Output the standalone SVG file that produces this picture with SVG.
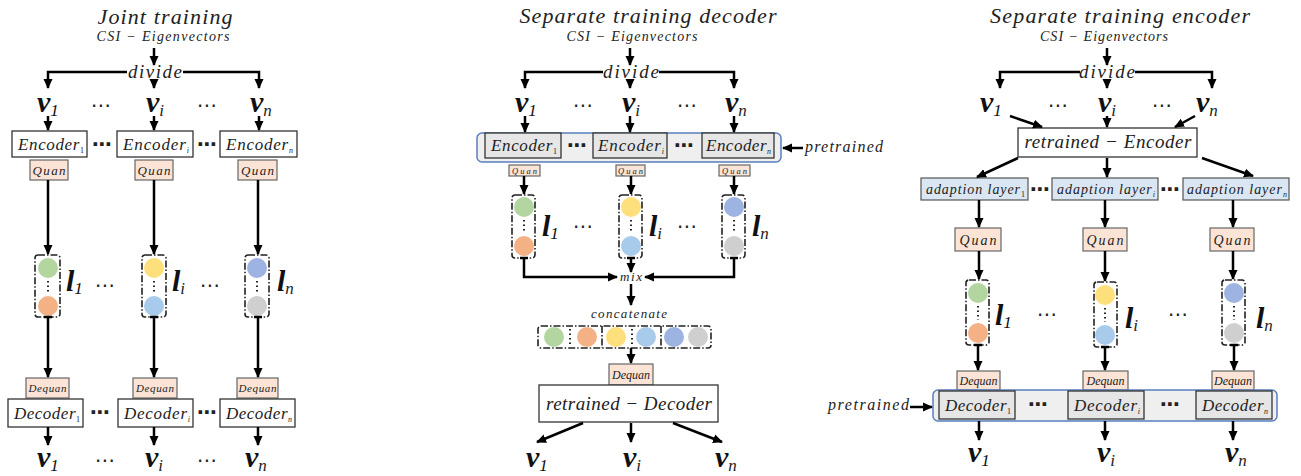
<svg xmlns="http://www.w3.org/2000/svg" width="1301" height="476" viewBox="0 0 1301 476">
<defs>
<marker id="ah" viewBox="0 0 10 10" refX="9" refY="5" markerWidth="10" markerHeight="10" markerUnits="userSpaceOnUse" orient="auto"><path d="M0,0.5 L10,5 L0,9.5 z" fill="#000"/></marker>
<style>
.m{font-family:"Liberation Serif",serif;font-style:italic;fill:#222}
.c{text-anchor:middle}
.ti{font-size:22px}
.csi{font-size:14px}
.dv{font-size:19px}
.bv{font-family:"Liberation Serif",serif;font-weight:bold;font-style:italic;font-size:30px;fill:#111}
.s{font-family:"Liberation Serif",serif;font-weight:normal;font-size:17px}
.su{font-size:8px;font-style:normal}
.sui{font-size:8px}
.dots{font-family:"DejaVu Sans",sans-serif;font-size:20px;text-anchor:middle;fill:#222}
.bd{font-weight:bold}
.box{fill:#fff;stroke:#333;stroke-width:1.3}
.gbox{fill:#e6e6e6;stroke:#333;stroke-width:1.3}
.bar{fill:#efefef;stroke:#5a7fbf;stroke-width:1.5}
.q{fill:#fbe4d5;stroke:#666;stroke-width:1.2}
.ad{fill:#dae7f3;stroke:#555;stroke-width:1.2}
.lat{fill:none;stroke:#222;stroke-width:1.6;stroke-dasharray:7 2 1.5 2}
.dl{stroke:#222;stroke-width:2;stroke-dasharray:1.5 3}
.ar{fill:none;stroke:#000;stroke-width:2.5;marker-end:url(#ah)}
.ln{fill:none;stroke:#000;stroke-width:2.5}
.g{fill:#b3d6a0}.o{fill:#f4b186}.y{fill:#fde07b}.lb{fill:#a9cbeb}.p{fill:#9db3e2}.gr{fill:#cfcfcf}
</style>
</defs>
<rect width="1301" height="476" fill="#fff"/>

<!-- ================= Joint training ================= -->
<g id="joint">
  <g id="j-head">
    <text class="m c ti" x="165" y="24" textLength="135">Joint training</text>
    <text class="m c csi" x="163" y="41" textLength="133">CSI − Eigenvectors</text>
    <text class="m c dv" x="155" y="78" textLength="54">divide</text>
  </g>
  <g id="j-vin">
    <text class="bv" x="37" y="112">v<tspan class="s" dy="4">1</tspan></text>
    <text class="dots" x="101" y="112">⋯</text>
    <text class="bv" x="146" y="112">v<tspan class="s m" dy="4">i</tspan></text>
    <text class="dots" x="207" y="112">⋯</text>
    <text class="bv" x="250" y="112">v<tspan class="s m" dy="4">n</tspan></text>
  </g>
  <g id="j-enc">
    <rect class="box" x="12" y="131" width="75" height="26"/>
    <text class="m" x="18" y="150" font-size="17" textLength="66">Encoder<tspan class="su" dy="3">1</tspan></text>
    <text class="dots bd" x="102" y="151">⋯</text>
    <rect class="box" x="117" y="131" width="76" height="26"/>
    <text class="m" x="123" y="150" font-size="17" textLength="66">Encoder<tspan class="sui" dy="3">i</tspan></text>
    <text class="dots bd" x="207" y="151">⋯</text>
    <rect class="box" x="220" y="131" width="77" height="26"/>
    <text class="m" x="226" y="150" font-size="17" textLength="67">Encoder<tspan class="sui" dy="3">n</tspan></text>
  </g>
  <g id="j-quan">
    <rect class="q" x="30" y="160" width="38" height="20"/><text class="m c" x="49" y="174.5" font-size="13" textLength="33">Quan</text>
    <rect class="q" x="135" y="160" width="38" height="20"/><text class="m c" x="154" y="174.5" font-size="13" textLength="33">Quan</text>
    <rect class="q" x="238" y="160" width="39" height="20"/><text class="m c" x="257.5" y="174.5" font-size="13" textLength="33">Quan</text>
  </g>
  <g id="j-lat">
    <rect class="lat" x="35" y="255" width="25" height="62" rx="3"/>
    <circle class="g" cx="48" cy="268" r="10"/><circle class="o" cx="48" cy="306" r="10"/><line class="dl" x1="48" y1="281" x2="48" y2="294"/>
    <text class="bv" x="66" y="291" font-size="28">l<tspan class="s" dy="3">1</tspan></text>
    <text class="dots" x="105" y="292">⋯</text>
    <rect class="lat" x="142" y="255" width="24" height="62" rx="3"/>
    <circle class="y" cx="154" cy="268" r="10"/><circle class="lb" cx="154" cy="306" r="10"/><line class="dl" x1="154" y1="281" x2="154" y2="294"/>
    <text class="bv" x="172" y="291" font-size="28">l<tspan class="s m" dy="3">i</tspan></text>
    <text class="dots" x="210" y="292">⋯</text>
    <rect class="lat" x="245" y="255" width="24" height="62" rx="3"/>
    <circle class="p" cx="257" cy="268" r="10"/><circle class="gr" cx="257" cy="306" r="10"/><line class="dl" x1="257" y1="281" x2="257" y2="294"/>
    <text class="bv" x="277" y="291" font-size="28">l<tspan class="s m" dy="3">n</tspan></text>
  </g>
  <g id="j-dec">
    <rect class="q" x="26" y="378" width="43" height="20"/><text class="m c" x="47.5" y="392" font-size="11" textLength="38">Dequan</text>
    <rect class="q" x="133" y="378" width="44" height="20"/><text class="m c" x="155" y="392" font-size="11" textLength="38">Dequan</text>
    <rect class="q" x="237" y="378" width="41" height="20"/><text class="m c" x="257.5" y="392" font-size="11" textLength="38">Dequan</text>
    <rect class="box" x="8" y="399" width="75" height="28"/>
    <text class="m" x="14" y="419" font-size="17" textLength="66">Decoder<tspan class="su" dy="3">1</tspan></text>
    <text class="dots bd" x="100" y="419">⋯</text>
    <rect class="box" x="118" y="399" width="75" height="28"/>
    <text class="m" x="124" y="419" font-size="17" textLength="66">Decoder<tspan class="sui" dy="3">i</tspan></text>
    <text class="dots bd" x="207" y="419">⋯</text>
    <rect class="box" x="220" y="399" width="75" height="28"/>
    <text class="m" x="226" y="419" font-size="17" textLength="66">Decoder<tspan class="sui" dy="3">n</tspan></text>
  </g>
  <g id="j-vout">
    <text class="bv" x="37" y="467">v<tspan class="s" dy="4">1</tspan></text>
    <text class="dots" x="105" y="467">⋯</text>
    <text class="bv" x="145" y="467">v<tspan class="s m" dy="4">i</tspan></text>
    <text class="dots" x="207" y="467">⋯</text>
    <text class="bv" x="245" y="467">v<tspan class="s m" dy="4">n</tspan></text>
  </g>
</g>

<!-- ================= Separate training decoder ================= -->
<g id="sepdec">
  <g id="d-head">
    <text class="m c ti" x="648" y="23" textLength="257">Separate training decoder</text>
    <text class="m c csi" x="632" y="41" textLength="131">CSI − Eigenvectors</text>
    <text class="m c dv" x="631" y="78" textLength="56">divide</text>
  </g>
  <g id="d-vin">
    <text class="bv" x="515" y="112">v<tspan class="s" dy="4">1</tspan></text>
    <text class="dots" x="583" y="112">⋯</text>
    <text class="bv" x="622" y="112">v<tspan class="s m" dy="4">i</tspan></text>
    <text class="dots" x="687" y="112">⋯</text>
    <text class="bv" x="725" y="112">v<tspan class="s m" dy="4">n</tspan></text>
  </g>
  <g id="d-enc">
    <rect class="bar" x="477" y="133" width="304" height="29" rx="5"/>
    <rect class="gbox" x="485" y="133" width="76" height="25"/>
    <text class="m" x="491" y="151" font-size="17" textLength="66">Encoder<tspan class="su" dy="3">1</tspan></text>
    <text class="dots bd" x="577" y="152">⋯</text>
    <rect class="gbox" x="593" y="133" width="74" height="25"/>
    <text class="m" x="598" y="151" font-size="17" textLength="66">Encoder<tspan class="sui" dy="3">i</tspan></text>
    <text class="dots bd" x="684" y="152">⋯</text>
    <rect class="gbox" x="702" y="133" width="72" height="25"/>
    <text class="m" x="706" y="151" font-size="17" textLength="65">Encoder<tspan class="sui" dy="3">n</tspan></text>
  </g>
  <g id="d-pre">
    <text class="m" x="805" y="152" font-size="16" textLength="78">pretrained</text>
  </g>
  <g id="d-quan">
    <rect class="q" x="509" y="165" width="31" height="11"/><text class="m c" x="524.5" y="173.5" font-size="8.5" textLength="25">Quan</text>
    <rect class="q" x="616" y="165" width="29" height="11"/><text class="m c" x="630.5" y="173.5" font-size="8.5" textLength="25">Quan</text>
    <rect class="q" x="719" y="165" width="31" height="11"/><text class="m c" x="734.5" y="173.5" font-size="8.5" textLength="25">Quan</text>
  </g>
  <g id="d-lat">
    <rect class="lat" x="512" y="195" width="23" height="63" rx="3"/>
    <circle class="g" cx="524" cy="207" r="10"/><circle class="o" cx="524" cy="246" r="10"/><line class="dl" x1="524" y1="220" x2="524" y2="233"/>
    <text class="bv" x="542" y="236" font-size="28">l<tspan class="s" dy="3">1</tspan></text>
    <text class="dots" x="583" y="233">⋯</text>
    <rect class="lat" x="619" y="195" width="23" height="63" rx="3"/>
    <circle class="y" cx="631" cy="207" r="10"/><circle class="lb" cx="631" cy="246" r="10"/><line class="dl" x1="631" y1="220" x2="631" y2="233"/>
    <text class="bv" x="649" y="236" font-size="28">l<tspan class="s m" dy="3">i</tspan></text>
    <text class="dots" x="687" y="233">⋯</text>
    <rect class="lat" x="722" y="195" width="23" height="63" rx="3"/>
    <circle class="p" cx="734" cy="207" r="10"/><circle class="gr" cx="734" cy="246" r="10"/><line class="dl" x1="734" y1="220" x2="734" y2="233"/>
    <text class="bv" x="752" y="236" font-size="28">l<tspan class="s m" dy="3">n</tspan></text>
  </g>
  <g id="d-mix">
    <text class="m c" x="631" y="281" font-size="13" textLength="22">mix</text>
    <text class="m c" x="629" y="318" font-size="13" textLength="76">concatenate</text>
  </g>
  <g id="d-concat">
    <rect class="lat" x="538" y="326" width="173" height="22" rx="3"/>
    <circle class="g" cx="554" cy="337" r="10"/><circle class="o" cx="587" cy="337" r="10"/>
    <circle class="y" cx="616" cy="337" r="10"/><circle class="lb" cx="646" cy="337" r="10"/>
    <circle class="p" cx="674" cy="337" r="10"/><circle class="gr" cx="698" cy="337" r="10"/>
    <line class="dl" x1="570" y1="329" x2="570" y2="346"/>
    <line class="lat" x1="602" y1="326" x2="602" y2="348"/>
    <line class="dl" x1="632" y1="329" x2="632" y2="346"/>
    <line class="lat" x1="661" y1="326" x2="661" y2="348"/>
  </g>
  <g id="d-dec">
    <rect class="q" x="609" y="364" width="44" height="21"/><text class="m c" x="631" y="379" font-size="12" textLength="38">Dequan</text>
    <rect class="box" x="539" y="385" width="179" height="37"/>
    <text class="m c" x="629" y="410" font-size="19" textLength="166">retrained − Decoder</text>
  </g>
  <g id="d-vout">
    <text class="bv" x="526" y="467">v<tspan class="s" dy="4">1</tspan></text>
    <text class="bv" x="623" y="467">v<tspan class="s m" dy="4">i</tspan></text>
    <text class="bv" x="715" y="467">v<tspan class="s m" dy="4">n</tspan></text>
  </g>
</g>

<!-- ================= Separate training encoder ================= -->
<g id="sepenc">
  <g id="e-head">
    <text class="m c ti" x="1120" y="23" textLength="260">Separate training encoder</text>
    <text class="m c csi" x="1104" y="41" textLength="128">CSI − Eigenvectors</text>
    <text class="m c dv" x="1107" y="78" textLength="56">divide</text>
  </g>
  <g id="e-vin">
    <text class="bv" x="980" y="112">v<tspan class="s" dy="4">1</tspan></text>
    <text class="dots" x="1058" y="112">⋯</text>
    <text class="bv" x="1098" y="112">v<tspan class="s m" dy="4">i</tspan></text>
    <text class="dots" x="1162" y="112">⋯</text>
    <text class="bv" x="1196" y="112">v<tspan class="s m" dy="4">n</tspan></text>
  </g>
  <g id="e-enc">
    <rect class="box" x="1018" y="128" width="179" height="29"/>
    <text class="m c" x="1108" y="148" font-size="19" textLength="167">retrained − Encoder</text>
  </g>
  <g id="e-adapt">
    <rect class="ad" x="921" y="178" width="107" height="22"/>
    <text class="m" x="926" y="194" font-size="14" textLength="99">adaption layer<tspan class="su" dy="3">1</tspan></text>
    <text class="dots bd" x="1040" y="196">⋯</text>
    <rect class="ad" x="1052" y="178" width="106" height="22"/>
    <text class="m" x="1057" y="194" font-size="14" textLength="98">adaption layer<tspan class="sui" dy="3">i</tspan></text>
    <text class="dots bd" x="1170" y="196">⋯</text>
    <rect class="ad" x="1183" y="178" width="106" height="22"/>
    <text class="m" x="1187" y="194" font-size="14" textLength="100">adaption layer<tspan class="sui" dy="3">n</tspan></text>
  </g>
  <g id="e-quan">
    <rect class="q" x="955" y="228" width="46" height="23"/><text class="m c" x="978" y="244.5" font-size="14" textLength="37">Quan</text>
    <rect class="q" x="1083" y="228" width="44" height="23"/><text class="m c" x="1105" y="244.5" font-size="14" textLength="37">Quan</text>
    <rect class="q" x="1210" y="228" width="44" height="23"/><text class="m c" x="1232" y="244.5" font-size="14" textLength="37">Quan</text>
  </g>
  <g id="e-lat">
    <rect class="lat" x="966" y="280" width="23" height="65" rx="3"/>
    <circle class="g" cx="978" cy="293" r="10"/><circle class="o" cx="978" cy="333" r="10"/><line class="dl" x1="978" y1="306" x2="978" y2="320"/>
    <text class="bv" x="995" y="325" font-size="28">l<tspan class="s" dy="3">1</tspan></text>
    <text class="dots" x="1047" y="321">⋯</text>
    <rect class="lat" x="1094" y="282" width="23" height="65" rx="3"/>
    <circle class="y" cx="1105" cy="295" r="10"/><circle class="lb" cx="1105" cy="335" r="10"/><line class="dl" x1="1105" y1="308" x2="1105" y2="322"/>
    <text class="bv" x="1125" y="328" font-size="28">l<tspan class="s m" dy="3">i</tspan></text>
    <text class="dots" x="1178" y="321">⋯</text>
    <rect class="lat" x="1222" y="280" width="23" height="65" rx="3"/>
    <circle class="p" cx="1234" cy="293" r="10"/><circle class="gr" cx="1234" cy="333" r="10"/><line class="dl" x1="1234" y1="306" x2="1234" y2="320"/>
    <text class="bv" x="1256" y="328" font-size="28">l<tspan class="s m" dy="3">n</tspan></text>
  </g>
  <g id="e-dec">
    <rect class="q" x="957" y="371" width="43" height="19"/><text class="m c" x="978.5" y="385" font-size="12" textLength="38">Dequan</text>
    <rect class="q" x="1083" y="371" width="45" height="19"/><text class="m c" x="1105.5" y="385" font-size="12" textLength="38">Dequan</text>
    <rect class="q" x="1212" y="371" width="42" height="19"/><text class="m c" x="1233" y="385" font-size="12" textLength="38">Dequan</text>
    <rect class="bar" x="933" y="390" width="344" height="31" rx="5"/>
    <rect class="gbox" x="939" y="391" width="76" height="28"/>
    <text class="m" x="945" y="411" font-size="17" textLength="66">Decoder<tspan class="su" dy="3">1</tspan></text>
    <text class="dots bd" x="1038" y="411">⋯</text>
    <rect class="gbox" x="1068" y="391" width="76" height="28"/>
    <text class="m" x="1074" y="411" font-size="17" textLength="66">Decoder<tspan class="sui" dy="3">i</tspan></text>
    <text class="dots bd" x="1170" y="411">⋯</text>
    <rect class="gbox" x="1196" y="391" width="76" height="28"/>
    <text class="m" x="1202" y="411" font-size="17" textLength="66">Decoder<tspan class="sui" dy="3">n</tspan></text>
  </g>
  <g id="e-pre">
    <text class="m" x="828" y="410" font-size="16" textLength="81">pretrained</text>
  </g>
  <g id="e-vout">
    <text class="bv" x="968" y="462">v<tspan class="s" dy="4">1</tspan></text>
    <text class="bv" x="1097" y="462">v<tspan class="s m" dy="4">i</tspan></text>
    <text class="bv" x="1225" y="462">v<tspan class="s m" dy="4">n</tspan></text>
  </g>
</g>

<!-- ================= connectors ================= -->
<g id="connectors">
  <!-- joint training -->
  <path class="ar" d="M154,48 V65"/>
  <path class="ar" d="M127,72 H48 V88"/>
  <path class="ar" d="M183,72 H259 V88"/>
  <path class="ar" d="M154,80 V88"/>
  <path class="ar" d="M48,116 V130"/>
  <path class="ar" d="M154,116 V130"/>
  <path class="ar" d="M259,116 V130"/>
  <path class="ar" d="M48,180 V254"/>
  <path class="ar" d="M154,180 V254"/>
  <path class="ar" d="M258,180 V254"/>
  <path class="ar" d="M48,317 V377"/>
  <path class="ar" d="M154,317 V377"/>
  <path class="ar" d="M258,317 V377"/>
  <path class="ln" d="M44,317 H52 M150,317 H158 M254,317 H262"/>
  <path class="ar" d="M48,427 V445"/>
  <path class="ar" d="M154,427 V445"/>
  <path class="ar" d="M258,427 V445"/>

  <!-- separate training decoder -->
  <path class="ar" d="M630,48 V65"/>
  <path class="ar" d="M603,72 H525 V88"/>
  <path class="ar" d="M659,72 H734 V88"/>
  <path class="ar" d="M630,80 V88"/>
  <path class="ar" d="M525,116 V132"/>
  <path class="ar" d="M630,116 V132"/>
  <path class="ar" d="M734,116 V132"/>
  <path class="ar" d="M803,148 H783"/>
  <path class="ar" d="M524,176 V194"/>
  <path class="ar" d="M631,176 V194"/>
  <path class="ar" d="M734,176 V194"/>
  <path class="ar" d="M524,258 V277 H617"/>
  <path class="ar" d="M734,258 V277 H645"/>
  <path class="ar" d="M631,258 V272"/>
  <path class="ln" d="M520,258 H528 M627,258 H635 M730,258 H738"/>
  <path class="ar" d="M631,284 V305"/>
  <path class="ar" d="M631,348 V363"/>
  <path class="ar" d="M583,423 L537,442"/>
  <path class="ar" d="M631,423 V442"/>
  <path class="ar" d="M673,423 L722,442"/>

  <!-- separate training encoder -->
  <path class="ar" d="M1107,48 V65"/>
  <path class="ar" d="M1080,72 H1000 V88"/>
  <path class="ar" d="M1135,72 H1212 V88"/>
  <path class="ar" d="M1107,80 V88"/>
  <path class="ar" d="M1010,116 L1042,127"/>
  <path class="ar" d="M1107,116 V127"/>
  <path class="ar" d="M1195,116 L1175,127"/>
  <path class="ar" d="M1018,158 L977,177"/>
  <path class="ar" d="M1107,158 V177"/>
  <path class="ar" d="M1202,158 L1253,176"/>
  <path class="ar" d="M979,200 V227"/>
  <path class="ar" d="M1105,200 V227"/>
  <path class="ar" d="M1233,200 V227"/>
  <path class="ar" d="M979,251 V279"/>
  <path class="ar" d="M1105,251 V281"/>
  <path class="ar" d="M1233,251 V279"/>
  <path class="ar" d="M978,345 V370"/>
  <path class="ar" d="M1105,347 V370"/>
  <path class="ar" d="M1234,345 V370"/>
  <path class="ln" d="M974,345 H982 M1101,347 H1109 M1230,345 H1238"/>
  <path class="ar" d="M910,407 H932"/>
  <path class="ar" d="M979,421 V440"/>
  <path class="ar" d="M1105,421 V440"/>
  <path class="ar" d="M1233,421 V440"/>
</g>
</svg>
